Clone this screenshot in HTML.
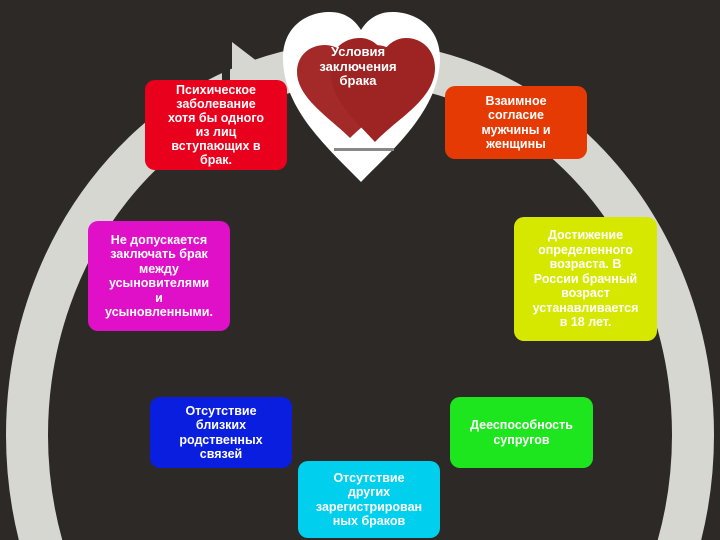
<!DOCTYPE html>
<html style="overflow:hidden"><head><meta charset="utf-8"><style>
html,body{margin:0;width:720px;height:540px;overflow:hidden}
body{background:#2d2926;position:relative;font-family:"Liberation Sans","DejaVu Sans",sans-serif}
.b{position:absolute;border-radius:10px;color:#fff;font-weight:bold;font-size:12.5px;line-height:14.5px;text-align:center;display:flex;align-items:center;justify-content:center;box-sizing:border-box;padding:0 2px;white-space:nowrap;overflow:hidden}
</style></head><body>
<svg width="720" height="540" style="position:absolute;left:0;top:0;overflow:hidden">
<ellipse cx="360" cy="435" rx="333" ry="372" fill="none" stroke="#d7d7d2" stroke-width="42"/>
<polygon points="232,42 292,88 232,118" fill="#d7d7d2"/>
<rect x="222" y="20" width="8" height="60" fill="#2d2926"/>
<path d="M361,182 C330,150 283,110 283,58 C283,28 305,12 330,12 C345,12 355,20 361,30 C367,20 377,12 392,12 C417,12 440,28 440,58 C440,110 392,150 361,182 Z" fill="#fff"/>
<path d="M350,138 C330,118 297,98 297,72 C297,55 310,45 325,45 C336,45 345,52 350,60 C355,52 364,45 375,45 C390,45 403,55 403,72 C403,98 370,118 350,138 Z" fill="#a42a2a"/>
<path d="M375,142 C355,120 330,100 330,68 C330,50 343,38 360,38 C370,38 378,44 383,52 C388,44 396,38 406,38 C422,38 435,50 435,68 C435,100 395,120 375,142 Z" fill="#9e2323"/>
<rect x="334" y="148" width="60" height="3" fill="#888"/>
</svg>
<div class="b" style="left:318px;top:42px;width:80px;height:50px;font-size:13px;overflow:visible">Условия<br>заключения<br>брака</div>
<div class="b" style="left:145px;top:80px;width:142px;height:90px;background:#e8001c;line-height:14px">Психическое<br>заболевание<br>хотя бы одного<br>из лиц<br>вступающих в<br>брак.</div>
<div class="b" style="left:445px;top:86px;width:142px;height:73px;background:#e63a05">Взаимное<br>согласие<br>мужчины и<br>женщины</div>
<div class="b" style="left:88px;top:221px;width:142px;height:110px;background:#e010c8">Не допускается<br>заключать брак<br>между<br>усыновителями<br>и<br>усыновленными.</div>
<div class="b" style="left:514px;top:217px;width:143px;height:124px;background:#d6e800">Достижение<br>определенного<br>возраста. В<br>России брачный<br>возраст<br>устанавливается<br>в 18 лет.</div>
<div class="b" style="left:150px;top:397px;width:142px;height:71px;background:#0a1ee0">Отсутствие<br>близких<br>родственных<br>связей</div>
<div class="b" style="left:450px;top:397px;width:143px;height:71px;background:#1ee61e">Дееспособность<br>супругов</div>
<div class="b" style="left:298px;top:461px;width:142px;height:77px;background:#00d0ee">Отсутствие<br>других<br>зарегистрирован<br>ных браков</div>
</body></html>
